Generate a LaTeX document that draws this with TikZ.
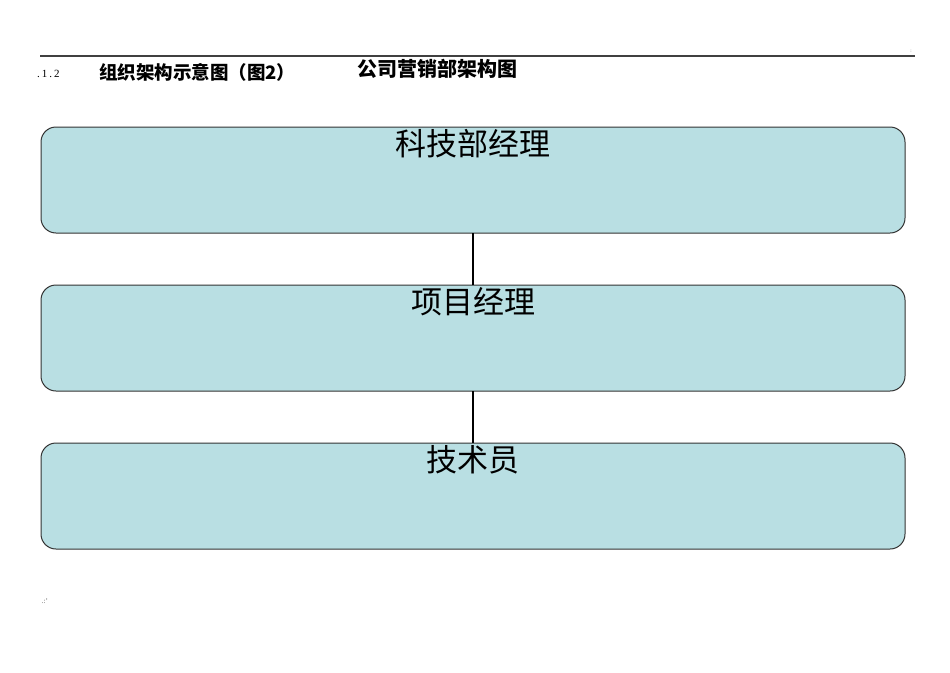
\documentclass[tikz,border=0pt]{standalone}
\usepackage{fontspec}
\newfontfamily\cjk{Noto Sans CJK SC}
\setmainfont{Liberation Serif}
\begin{document}
\begin{tikzpicture}[x=1pt,y=-1pt,
  boxstyle/.style={draw=black!80, line width=1pt, fill={rgb,255:red,185;green,223;blue,227}, rounded corners=15pt},
  linkstyle/.style={line width=2.8pt, black},
  boxtext/.style={font=\cjk\fontsize{31}{31}\selectfont, inner sep=0pt}]
\useasboundingbox (0,0) rectangle (950,672);
% header rule
\coordinate (rl) at (40,56);
\coordinate (rr) at (915,56);
\draw[line width=1.8pt, black!75] (rl) -- (rr);
\node[font=\fontsize{5}{5}\selectfont, inner sep=0pt, text=black!60] (dot) at (911,51) {:};
\node[font=\fontsize{11}{11}\selectfont, anchor=west, inner sep=0pt] (num) at (37,74) {.\kern2pt1\kern2pt.\kern2pt2};
\node[font=\cjk\bfseries\fontsize{18.5}{18.5}\selectfont, anchor=west, inner sep=0pt] (t1) at (99,72) {组织架构示意图（图2）};
\node[font=\cjk\bfseries\fontsize{20}{20}\selectfont, anchor=west, inner sep=0pt] (t2) at (357,69) {公司营销部架构图};
% boxes
\draw[boxstyle] (41,127) rectangle (905,233);
\draw[boxstyle] (41,285) rectangle (905,391);
\draw[boxstyle] (41,443) rectangle (905,549);
\coordinate (b1) at (473,233);
\coordinate (b2t) at (473,285);
\coordinate (b2) at (473,391);
\coordinate (b3t) at (473,443);
\draw[linkstyle] (b1) -- (b2t);
\draw[linkstyle] (b2) -- (b3t);
\node[boxtext] (n1) at (473,144) {科技部经理};
\node[boxtext] (n2) at (473,302) {项目经理};
\node[boxtext] (n3) at (473,460) {技术员};
\node[font=\fontsize{7}{7}\selectfont, inner sep=0pt, text=black!70] (foot) at (45,601) {.:'};
\end{tikzpicture}
\end{document}
